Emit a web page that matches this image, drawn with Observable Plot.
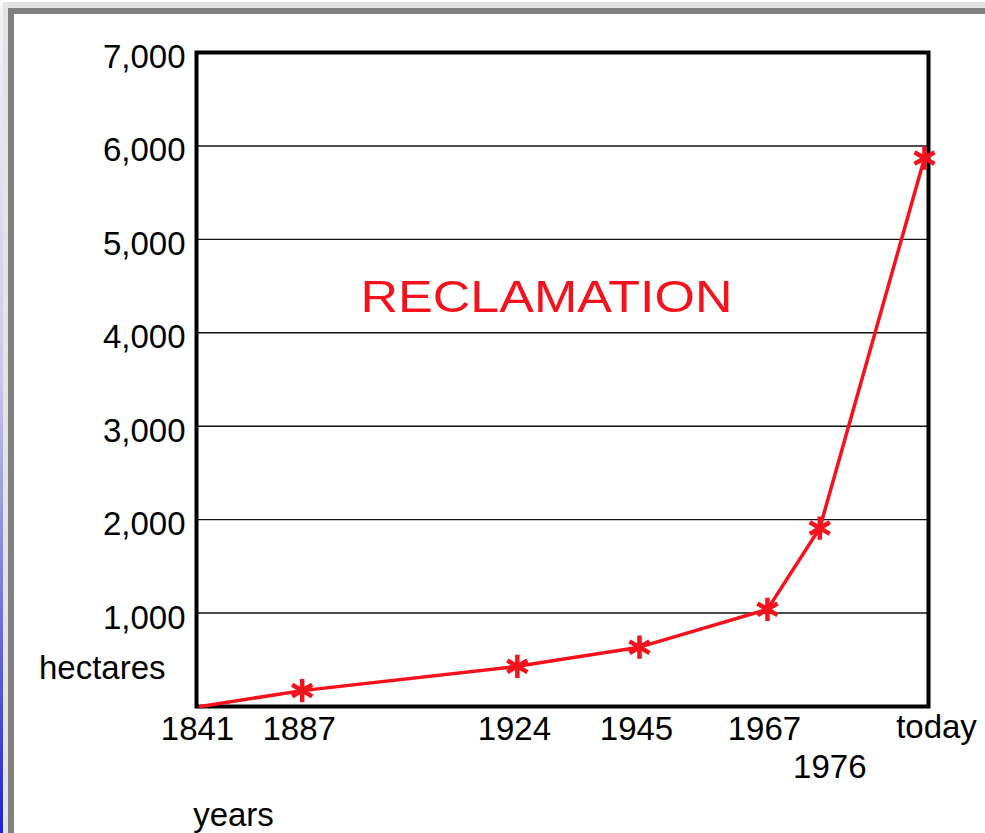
<!DOCTYPE html>
<html>
<head>
<meta charset="utf-8">
<script src="https://cdn.jsdelivr.net/npm/d3@7"></script>
<script src="https://cdn.jsdelivr.net/npm/@observablehq/plot@0.6"></script>
<style>
  html, body { margin: 0; padding: 0; background: #fff; }
  #page { position: relative; width: 985px; height: 833px; overflow: hidden; background: #fff;
          font-family: "Liberation Sans", Arial, Helvetica, sans-serif; }
  .deco { position: absolute; z-index: 2; pointer-events: none; }
  #chart { position: absolute; left: 0; top: 0; }
</style>
</head>
<body>
<div id="page">
  <div class="deco" style="left:0;top:0;width:3px;height:833px;background:linear-gradient(#f4f4fa,#c8c8ee 45%,#2020d8);"></div>
  <div class="deco" style="left:3px;top:2px;width:982px;height:6px;background:#e4e4e4;"></div>
  <div class="deco" style="left:3px;top:2px;width:5px;height:831px;background:#e4e4e4;"></div>
  <div class="deco" style="left:8px;top:8px;width:977px;height:6px;background:#808080;"></div>
  <div class="deco" style="left:8px;top:8px;width:6px;height:825px;background:#808080;"></div>
  <div id="chart"></div>
</div>
<script>
// Data
const years = [1841, 1887, 1924, 1945, 1967, 1976, 1994];
const hectares = [0, 170, 430, 635, 1040, 1910, 5870];
const tickLabels = ["1841", "1887", "1924", "1945", "1967", "1976", "today"];
const yTicks = [1000, 2000, 3000, 4000, 5000, 6000, 7000];
const gridValues = [1000, 2000, 3000, 4000, 5000, 6000];
const title = "RECLAMATION";
const yLabel = "hectares";
const xLabel = "years";

// the time axis is compressed before 1887 (broken axis in the original)
const breakYear = 1887;
const compress = 0.38;
const axisTransform = d => d < breakYear ? breakYear - (breakYear - d) * compress : d;

const data = years.map((y, i) => ({year: y, value: hectares[i], label: tickLabels[i]}));
const starred = data.slice(1); // the starting point carries no marker
const mainLabels = data.filter(d => d.label !== "1976" && d.label !== "today");
const lowLabel = data.filter(d => d.label === "1976");
const todayLabel = data.filter(d => d.label === "today");

const red = "#f5121c";
const font = "'Liberation Sans', Arial, Helvetica, sans-serif";
const fs = 33;

const chart = Plot.plot({
  width: 985,
  height: 833,
  marginLeft: 196,
  marginRight: 57,
  marginTop: 52,
  marginBottom: 127,
  style: {background: "transparent", fontFamily: font, color: "black"},
  x: {type: "linear", transform: axisTransform, range: [200, 924], axis: null},
  y: {domain: [0, 7000], axis: null},
  marks: [
    Plot.ruleY(gridValues, {stroke: "#111", strokeWidth: 1.4}),
    Plot.axisY(yTicks, {tickSize: 0, tickPadding: 11, fontSize: fs, dy: 5,
      tickFormat: d3.format(","), label: null, fill: "black"}),
    Plot.frame({stroke: "black", strokeWidth: 4}),
    Plot.text(mainLabels, {x: "year", text: "label", frameAnchor: "bottom", lineAnchor: "middle", dy: 23, dx: -3, fontSize: fs, fill: "black"}),
    Plot.text(lowLabel, {x: "year", text: "label", frameAnchor: "bottom", lineAnchor: "middle", dy: 61, dx: 10, fontSize: fs, fill: "black"}),
    Plot.text(todayLabel, {x: "year", text: "label", frameAnchor: "bottom", lineAnchor: "middle", dy: 21, dx: 12, fontSize: fs, fill: "black"}),
    Plot.text([yLabel], {frameAnchor: "bottom-left", lineAnchor: "middle", textAnchor: "end", dx: -31, dy: -38, fontSize: fs, fill: "black"}),
    Plot.text([xLabel], {frameAnchor: "bottom-left", lineAnchor: "middle", textAnchor: "middle", dx: 37, dy: 109, fontSize: fs, fill: "black"}),
    Plot.text([title], {frameAnchor: "top", lineAnchor: "middle", dx: -16, dy: 245, fontSize: 45, fill: red}),
    Plot.line(data, {x: "year", y: "value", stroke: red, strokeWidth: 3.5}),
    Plot.dot(starred, {x: "year", y: "value", symbol: "asterisk", r: 11, stroke: red, strokeWidth: 4.5})
  ]
});

d3.select(chart).selectAll("text")
  .filter(function() { return this.textContent === title; })
  .attr("textLength", 372)
  .attr("lengthAdjust", "spacingAndGlyphs");

document.getElementById("chart").appendChild(chart);
</script>
</body>
</html>
